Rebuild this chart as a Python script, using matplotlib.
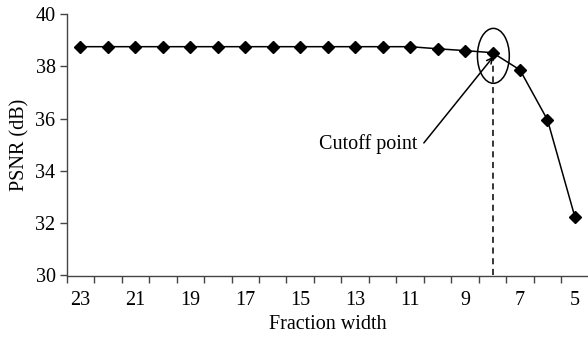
import numpy as np
import matplotlib.pyplot as plt
from matplotlib.patches import Ellipse

# PSNR versus fraction width of the fixed-point representation
fraction_width = [23, 22, 21, 20, 19, 18, 17, 16, 15, 14, 13, 12, 11, 10, 9, 8, 7, 6, 5]
psnr = [38.75, 38.75, 38.75, 38.75, 38.75, 38.75, 38.75, 38.75, 38.75, 38.75,
        38.75, 38.75, 38.75, 38.67, 38.60, 38.52, 37.86, 35.95, 32.23]
cutoff_width = 8

plt.rcParams['font.family'] = ['Liberation Serif', 'DejaVu Serif']
fs = 14.5

fig = plt.figure(figsize=(5.88, 3.41), dpi=100)
ax = fig.add_axes([66.7 / 588, 65.5 / 341, 522 / 588, 261.5 / 341])

idx = np.arange(len(fraction_width))
ax.plot(idx, psnr, color='black', lw=1.1, marker='D', markersize=6,
        markerfacecolor='black', markeredgecolor='black')

ax.set_xlim(-0.5, len(fraction_width) - 0.5)
ax.set_ylim(30, 40)
ax.set_yticks([30, 32, 34, 36, 38, 40])

# category boundaries get tick marks, every other category gets a label
ax.set_xticks(np.arange(len(fraction_width) + 1) - 0.5)
ax.set_xticklabels([])
ax.set_xticks(idx[::2], minor=True)
ax.set_xticklabels([str(w) for w in fraction_width[::2]], minor=True)
ax.tick_params(axis='x', which='major', length=5, width=1, color='#444444', direction='out')
ax.tick_params(axis='x', which='minor', length=0, pad=11, labelsize=fs)
ax.tick_params(axis='y', length=5, width=1, color='#444444', labelsize=fs, pad=3)

for side in ['top', 'right']:
    ax.spines[side].set_visible(False)
for side in ['left', 'bottom']:
    ax.spines[side].set_color('#444444')
    ax.spines[side].set_linewidth(1.0)

ax.set_xlabel('Fraction width', fontsize=fs, labelpad=4)
ax.set_ylabel('PSNR (dB)', fontsize=fs, labelpad=4)

# mark the cutoff point
ci = fraction_width.index(cutoff_width)
cy = psnr[ci]
ax.plot([ci, ci], [30, cy], color='black', lw=1.1, ls=(0, (4, 3)))
ax.add_patch(Ellipse((ci + 0.03, cy - 0.12), 1.16, 2.1, fill=False,
                     edgecolor='black', lw=1.1))
ax.annotate('', xy=(ci + 0.03, cy - 0.15), xytext=(12.5, 35.07),
            arrowprops=dict(arrowstyle='->', color='black', lw=1.1,
                            shrinkA=0, shrinkB=0))
ax.text(12.25, 35.03, 'Cutoff point', ha='right', va='center', fontsize=fs)

fig.savefig('out.png', dpi=100)
